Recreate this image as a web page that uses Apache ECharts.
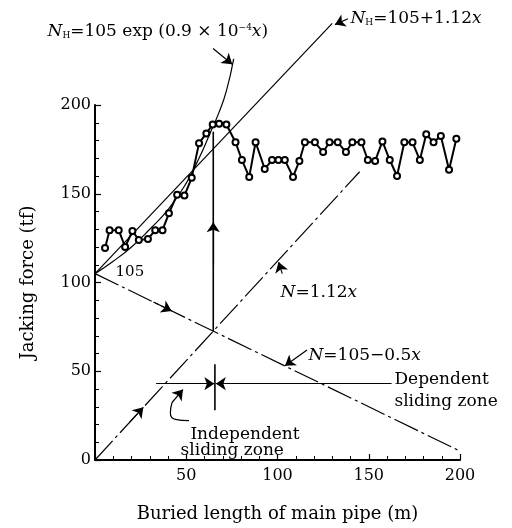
<!DOCTYPE html>
<html lang="en">
<head>
    <meta charset="UTF-8">
    <title>Jacking force vs buried length</title>
    <script src="https://cdn.jsdelivr.net/npm/echarts@6/dist/echarts.min.js"></script>
    <style>
        body { margin: 0; background: #fff; }
        #chart { width: 512px; height: 528px; }
    </style>
</head>
<body>
<div id="chart"></div>
<script>
    const lengthM = [5.5, 8, 13, 16.5, 20.5, 24, 29, 33, 37, 40.5, 45, 49, 53, 57, 61, 64.5, 68, 72, 77, 80.5,
        84.5, 88, 93, 97, 100.5, 104, 108.5, 112, 115, 120.5, 125, 128.5, 133, 137.5, 141, 146, 149.5, 153.5,
        157.5, 161.5, 165.5, 169.5, 174, 178, 181.5, 185.5, 189.5, 194, 198];
    const forceTf = [119.5, 129.5, 129.5, 120, 129, 124, 124.5, 129.5, 129.5, 139, 149.5, 149, 159, 178.5, 184, 189, 189.5, 189, 179, 169,
        159.5, 179, 164, 169, 169, 169, 159.5, 168.5, 179, 179, 173.5, 179, 179, 173.5, 179, 179, 169, 168.5,
        179.5, 169, 160, 179, 179, 169, 183.5, 179, 182.5, 163.5, 181];

    // NH = 105 exp(...) curve
    const expX = [0, 10, 20, 30, 40, 50, 57, 63, 68, 72, 76];
    const expY = [105, 112, 120, 130, 141, 156, 170, 184, 196, 208, 226];

    // straight lines (end points)
    const nhLine = [[0, 105], [130, 246]];
    const nLine = [[0, 0], [145, 162.4]];
    const nDecLine = [[0, 105], [200, 5]];
    const meetX = 64.8;
    const meetY = 72.6;
    const zoneY = 43;

    const serif = 'DejaVu Serif';
    const ink = '#000';

    const rich = {
        i: { fontFamily: serif, fontStyle: 'italic', fontSize: 17, color: ink },
        s: { fontFamily: serif, fontSize: 9, color: ink, verticalAlign: 'bottom', padding: [6, 0, 0, 0] },
        r: { fontFamily: serif, fontSize: 17, color: ink },
        sm: { fontFamily: serif, fontSize: 15, color: ink },
        sup: { fontFamily: serif, fontSize: 9, color: ink, verticalAlign: 'top', padding: [0, 0, 6, 0] }
    };

    // annotations: [x, y, text]
    const notes = [
        [-26.3, 241.3, '{i|N}{s|H}{r|=105 exp (0.9 × 10}{sup|−4}{i|x}{r|)}'],
        [139.7, 248.6, '{i|N}{s|H}{r|=105+1.12}{i|x}'],
        [11, 105.6, '{sm|105}'],
        [101.4, 94.5, '{i|N}{r|=1.12}{i|x}'],
        [116.7, 58.8, '{i|N}{r|=105−0.5}{i|x}'],
        [163.8, 45.3, '{r|Dependent}'],
        [163.8, 33, '{r|sliding zone}'],
        [52, 14.3, '{r|Independent}'],
        [46.6, 5.4, '{r|sliding zone}']
    ];

    // arrows: [from, to]
    const arrows = [
        [[64.7, 231.8], [75.2, 223]],
        [[138.6, 248.6], [131.5, 245.3]],
        [[102.6, 105], [100.6, 111.5]],
        [[116.2, 62], [104.1, 53.1]],
        [[19, 21.3], [26.5, 29.7]],
        [[32, 89], [42, 84]],
        [[meetX, 110], [meetX, 134]],
        [[33.5, zoneY], [65.4, zoneY]],
        [[162.5, zoneY], [66.2, zoneY]],
        [[42.2, 32.4], [48.2, 39.7]]
    ];
    const hook = [[51.5, 22.2], [44, 22.9], [41.3, 26.5], [42.2, 32.4]];

    const chart = echarts.init(document.getElementById('chart'));

    const axisCommon = {
        type: 'value',
        min: 0,
        max: 200,
        interval: 50,
        nameLocation: 'middle',
        nameTextStyle: { fontFamily: serif, fontSize: 18, color: ink },
        axisLine: { lineStyle: { color: ink, width: 2 } },
        axisTick: { inside: true, length: 6, lineStyle: { color: ink, width: 1.2 } },
        minorTick: { show: true, splitNumber: 5, length: 4, lineStyle: { color: ink, width: 1 } },
        splitLine: { show: false },
        axisLabel: { fontFamily: serif, fontSize: 16, color: ink }
    };

    const thin = { color: ink, width: 1.2 };
    const dashDot = { color: ink, width: 1.2, type: [26, 4, 3, 4] };

    chart.setOption({
        animation: false,
        grid: { left: 95, right: 52, top: 105, bottom: 65 },
        xAxis: Object.assign({}, axisCommon, {
            name: 'Buried length of main pipe (m)',
            nameGap: 45,
            axisLabel: Object.assign({}, axisCommon.axisLabel, {
                margin: 8,
                formatter: v => (v === 0 ? '' : v)
            })
        }),
        yAxis: Object.assign({}, axisCommon, {
            name: 'Jacking force (tf)',
            nameGap: 58,
            axisLabel: Object.assign({}, axisCommon.axisLabel, { margin: 4 })
        }),
        series: [
            {
                type: 'line', data: nhLine, clip: false, symbol: 'none',
                lineStyle: thin, z: 2
            },
            {
                type: 'line', data: expX.map((x, i) => [x, expY[i]]), clip: false, symbol: 'none',
                smooth: true, lineStyle: thin, z: 2
            },
            {
                type: 'line', data: nLine, clip: false, symbol: 'none', lineStyle: dashDot, z: 2
            },
            {
                type: 'line', data: nDecLine, clip: false, symbol: 'none', lineStyle: dashDot, z: 2
            },
            {
                type: 'line', data: [[meetX, meetY], [meetX, 185]], symbol: 'none',
                lineStyle: { color: ink, width: 1.6 }, z: 2
            },
            {
                type: 'line', data: [[65.7, 28], [65.7, 54]], symbol: 'none',
                lineStyle: { color: ink, width: 1.6 }, z: 2
            },
            {
                type: 'line', data: hook, symbol: 'none', smooth: true,
                lineStyle: thin, z: 2
            },
            {
                type: 'lines', coordinateSystem: 'cartesian2d', clip: false,
                symbol: ['none', 'arrow'], symbolSize: [6, 10],
                lineStyle: { color: ink, width: 1.2, opacity: 1 },
                data: arrows.map(a => ({ coords: a })), z: 3
            },
            {
                type: 'line', data: lengthM.map((x, i) => [x, forceTf[i]]),
                symbol: 'emptyCircle', symbolSize: 6,
                lineStyle: { color: ink, width: 2 },
                itemStyle: { color: ink, borderWidth: 1.4, borderColor: ink },
                z: 5
            },
            {
                type: 'scatter', clip: false, symbolSize: 1, silent: true,
                itemStyle: { color: 'rgba(0,0,0,0)', opacity: 1 },
                data: notes.map(n => ({
                    value: [n[0], n[1]],
                    label: {
                        show: true, position: 'right', distance: 0, opacity: 1,
                        color: ink, formatter: n[2], rich: rich
                    }
                })),
                z: 6
            }
        ]
    });
</script>
</body>
</html>
